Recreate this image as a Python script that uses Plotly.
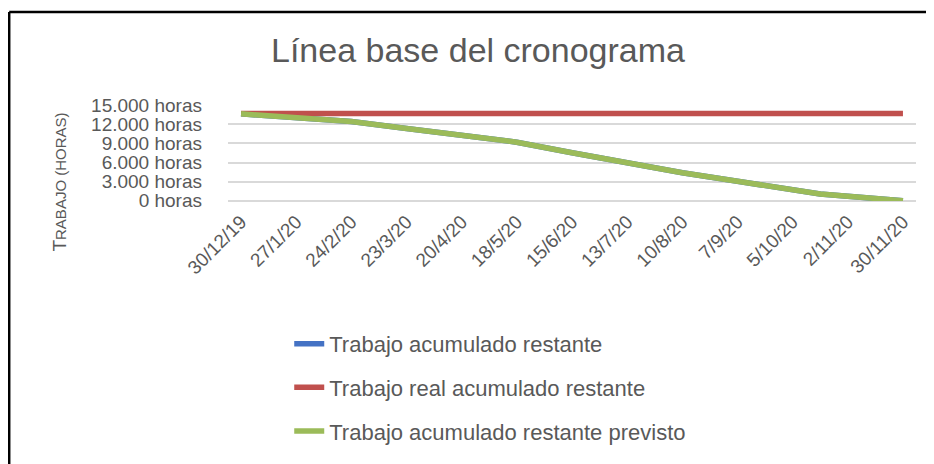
import plotly.graph_objects as go

# fechas de los puntos de la serie (semanas con cambio de pendiente incluidas)
fechas = [
    "2019-12-30", "2020-01-27", "2020-02-10", "2020-02-24", "2020-03-23",
    "2020-04-20", "2020-05-18", "2020-06-15", "2020-07-13", "2020-07-27",
    "2020-08-10", "2020-09-07", "2020-10-05", "2020-10-19", "2020-11-02",
    "2020-11-30",
]
restante = [13660, 13150, 12890, 12450, 11340, 10230, 9200, 7550, 5900, 5050,
            4400, 3050, 1700, 1040, 700, 0]
real_restante = [13700] * len(fechas)
previsto = [13660, 13150, 12890, 12450, 11340, 10230, 9200, 7550, 5900, 5050,
            4400, 3050, 1700, 1040, 700, 0]

tick_fechas = [
    "2019-12-30", "2020-01-27", "2020-02-24", "2020-03-23", "2020-04-20",
    "2020-05-18", "2020-06-15", "2020-07-13", "2020-08-10", "2020-09-07",
    "2020-10-05", "2020-11-02", "2020-11-30",
]
tick_labels = ["30/12/19", "27/1/20", "24/2/20", "23/3/20", "20/4/20", "18/5/20",
               "15/6/20", "13/7/20", "10/8/20", "7/9/20", "5/10/20", "2/11/20",
               "30/11/20"]
y_ticks = [0, 3000, 6000, 9000, 12000, 15000]
y_labels = ["0 horas", "3.000 horas", "6.000 horas", "9.000 horas",
            "12.000 horas", "15.000 horas"]

GRIS = "#595959"
FONT = "Liberation Sans"

series = [
    ("Trabajo acumulado restante", restante, "#4472C4"),
    ("Trabajo real acumulado restante", real_restante, "#C0504D"),
    ("Trabajo acumulado restante previsto", previsto, "#9BBB59"),
]

fig = go.Figure()
for i, (nombre, vals, color) in enumerate(series):
    fig.add_trace(
        go.Scatter(
            x=fechas,
            y=vals,
            mode="lines",
            name=nombre,
            legendgroup=f"g{i}",
            line=dict(color=color, width=5.5),
        )
    )

# el div de plotly queda desplazado 8px por el margen del body
W, H = 926, 456
L, R, T, B = 220, 18, 97, 260
PW, PH = W - L - R, H - T - B
BASE = H - B  # y del eje 0 en la figura

fig.update_layout(
    width=W,
    height=H,
    margin=dict(l=L, r=R, t=T, b=B),
    paper_bgcolor="white",
    plot_bgcolor="white",
    font=dict(family=FONT, color=GRIS),
    title=dict(
        text="Línea base del cronograma",
        x=470 / W,
        xanchor="center",
        y=1 - 42 / H,
        yanchor="middle",
        yref="container",
        font=dict(size=34, color=GRIS, family=FONT),
    ),
    xaxis=dict(
        type="date",
        range=["2019-12-23 09:00", "2020-12-06 15:00"],
        tickvals=tick_fechas,
        ticktext=tick_labels,
        tickangle=-45,
        tickfont=dict(size=19, color=GRIS),
        showgrid=False,
        showline=False,
        ticks="",
        ticklabelstandoff=5,
    ),
    yaxis=dict(
        range=[-50, 15050],
        tickvals=y_ticks,
        ticktext=y_labels,
        tickfont=dict(size=19, color=GRIS),
        gridcolor="#D9D9D9",
        gridwidth=1.5,
        zeroline=True,
        zerolinecolor="#D9D9D9",
        zerolinewidth=1.5,
        ticklabelstandoff=25,
    ),
    legend=dict(
        x=0.089,
        y=-1.27,
        xanchor="left",
        yanchor="top",
        font=dict(size=22, color=GRIS),
        tracegroupgap=12,
        bgcolor="rgba(0,0,0,0)",
    ),
)

fig.add_annotation(
    text="T<span style='font-size:15px'>RABAJO (HORAS)</span>",
    xref="paper",
    yref="paper",
    x=(52 - L) / PW,
    y=(BASE - 177) / PH,
    xanchor="center",
    yanchor="middle",
    textangle=-90,
    showarrow=False,
    font=dict(size=19, color=GRIS, family=FONT),
)

# marco negro de la imagen
top = (BASE - 1) / PH
left = (1.2 - L) / PW
fig.add_shape(type="line", xref="paper", yref="paper",
              x0=left, x1=left, y0=-3, y1=top,
              line=dict(color="black", width=2.5))
fig.add_shape(type="line", xref="paper", yref="paper",
              x0=left, x1=(920 - L) / PW, y0=top, y1=top,
              line=dict(color="black", width=2.5))

fig.write_html("out.html")
